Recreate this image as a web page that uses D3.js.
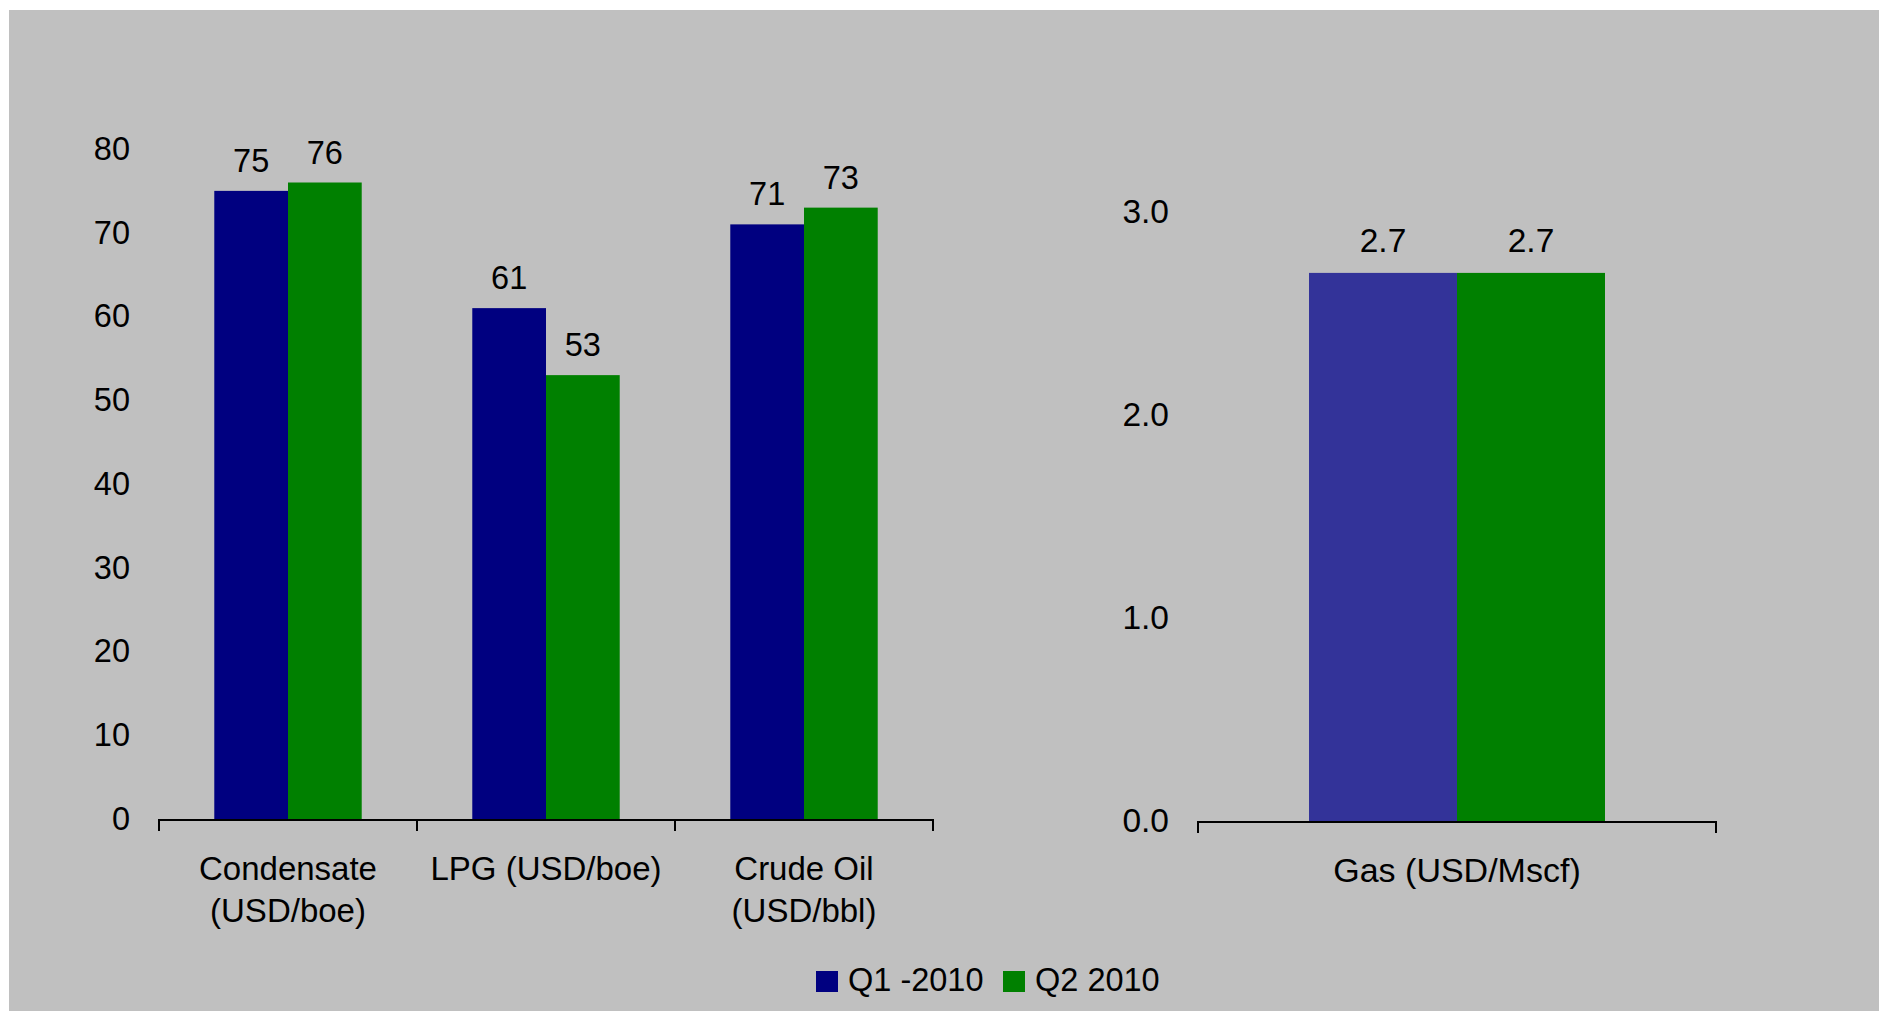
<!DOCTYPE html>
<html>
<head>
<meta charset="utf-8">
<script src="https://cdn.jsdelivr.net/npm/d3@7"></script>
<style>
  html, body { margin: 0; padding: 0; background: #ffffff; }
  svg { display: block; }
  text { font-family: "Liberation Sans", Arial, sans-serif; fill: #000; }
</style>
</head>
<body>
<svg id="chart" width="1879" height="1011"></svg>
<script>
// Realised prices, Q1 vs Q2 2010
const series = ["Q1 -2010", "Q2 2010"];

// Liquids panel
const liquidCategories = [["Condensate", "(USD/boe)"], ["LPG (USD/boe)"], ["Crude Oil", "(USD/bbl)"]];
const liquidQ1 = [75, 61, 71];
const liquidQ2 = [76, 53, 73];
const liquidTicks = [0, 10, 20, 30, 40, 50, 60, 70, 80];

// Gas panel
const gasCategories = [["Gas (USD/Mscf)"]];
const gasQ1 = [2.7];
const gasQ2 = [2.7];
const gasTicks = [0, 1, 2, 3];

const liquidColors = ["#000080", "#008000"];
const gasColors = ["#333399", "#008000"];
const legendColors = ["#000080", "#008000"];

const svg = d3.select("#chart");

// panel background
svg.append("rect")
  .attr("x", 9).attr("y", 10)
  .attr("width", 1879 - 9).attr("height", 1011 - 10)
  .attr("fill", "#C0C0C0");

function drawPanel(opts) {
  const { cats, q1, q2, ticks, xRange, yRange, domainMax, fmt, colors, labelGap, font, catFont } = opts;
  const keys = cats.map(c => c.join(" "));
  const rows = keys.map((k, i) => ({ key: k, lines: cats[i], values: [q1[i], q2[i]] }));

  const x0 = d3.scaleBand().domain(keys).range(xRange).paddingInner(0).paddingOuter(0);
  const x1 = d3.scaleBand().domain(series).range([0, x0.bandwidth()])
    .paddingInner(0).paddingOuter(0.75);
  const y = d3.scaleLinear().domain([0, domainMax]).range(yRange);

  const g = svg.append("g");

  // value axis: labels only, no spine
  const yAxis = g.append("g")
    .attr("transform", `translate(${xRange[0]},0)`)
    .call(d3.axisLeft(y).tickValues(ticks).tickFormat(fmt).tickSize(0).tickPadding(29));
  yAxis.select(".domain").remove();
  yAxis.selectAll("text")
    .style("font-family", '"Liberation Sans", Arial, sans-serif')
    .style("font-size", font + "px")
    .attr("fill", "#000");

  // bars
  const groups = g.selectAll(".grp").data(rows).enter().append("g")
    .attr("transform", d => `translate(${x0(d.key)},0)`);

  groups.selectAll("rect")
    .data(d => d.values.map((v, i) => ({ s: series[i], v, i })))
    .enter().append("rect")
    .attr("x", d => x1(d.s))
    .attr("y", d => y(d.v))
    .attr("width", x1.bandwidth())
    .attr("height", d => y(0) - y(d.v))
    .attr("fill", d => colors[d.i]);

  groups.selectAll("text.val")
    .data(d => d.values.map((v, i) => ({ s: series[i], v, i })))
    .enter().append("text")
    .attr("class", "val")
    .attr("x", d => x1(d.s) + x1.bandwidth() / 2)
    .attr("y", d => y(d.v) - labelGap)
    .attr("text-anchor", "middle")
    .style("font-size", font + "px")
    .text(d => fmt(d.v));

  // category axis: baseline with boundary ticks
  const y0 = y(0);
  const boundaries = keys.map(k => x0(k)).concat([xRange[1]]);
  g.append("line")
    .attr("x1", xRange[0]).attr("x2", xRange[1])
    .attr("y1", y0 + 1).attr("y2", y0 + 1)
    .attr("stroke", "#000").attr("stroke-width", 2);
  g.selectAll(".tick-b").data(boundaries).enter().append("line")
    .attr("x1", d => d).attr("x2", d => d)
    .attr("y1", y0).attr("y2", y0 + 12)
    .attr("stroke", "#000").attr("stroke-width", 2);

  // category labels
  const lbl = g.selectAll(".cat").data(rows).enter().append("text")
    .attr("text-anchor", "middle")
    .style("font-size", catFont + "px")
    .attr("x", d => x0(d.key) + x0.bandwidth() / 2)
    .attr("y", y0 + 61);
  lbl.selectAll("tspan").data(d => d.lines).enter().append("tspan")
    .attr("x", function () { return d3.select(this.parentNode).attr("x"); })
    .attr("dy", (d, i) => i === 0 ? 0 : 42)
    .text(d => d);
}

drawPanel({
  cats: liquidCategories, q1: liquidQ1, q2: liquidQ2, ticks: liquidTicks,
  xRange: [159, 933], yRange: [819, 149], domainMax: 80,
  fmt: d3.format("d"), colors: liquidColors, labelGap: 19, font: 32.5, catFont: 33
});

drawPanel({
  cats: gasCategories, q1: gasQ1, q2: gasQ2, ticks: gasTicks,
  xRange: [1198, 1716], yRange: [821, 212], domainMax: 3,
  fmt: d3.format(".1f"), colors: gasColors, labelGap: 21, font: 33.5, catFont: 34
});

// legend
const legend = svg.append("g").attr("transform", "translate(816,971)");
const legendX = [0, 187];
series.forEach((s, i) => {
  const item = legend.append("g").attr("transform", `translate(${legendX[i]},0)`);
  item.append("rect").attr("width", 22).attr("height", 21).attr("fill", legendColors[i]);
  item.append("text").attr("x", 32).attr("y", 20)
    .style("font-size", "32.5px").text(s);
});
</script>
</body>
</html>
